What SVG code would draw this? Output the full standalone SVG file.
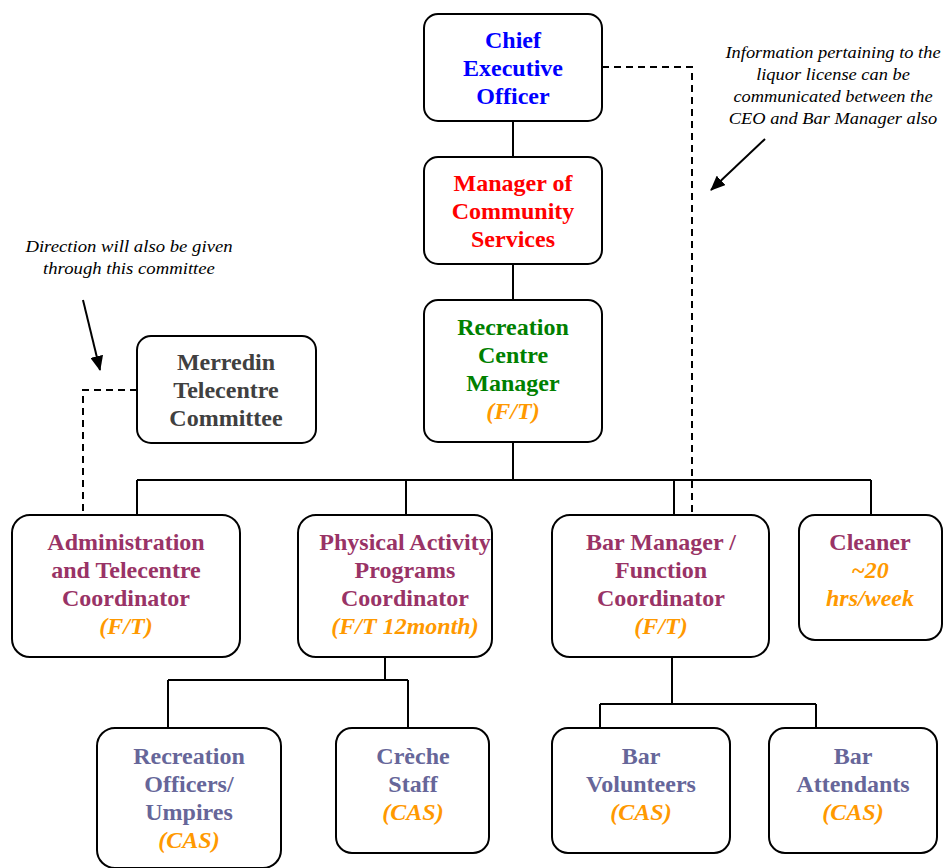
<svg xmlns="http://www.w3.org/2000/svg" width="945" height="868" viewBox="0 0 945 868">
<style>
.box{fill:#fff;stroke:#000;stroke-width:2}
.t{font-family:"Liberation Serif","Times New Roman",serif;font-weight:bold;font-size:24px;text-anchor:middle}
.i{font-style:italic}
.ceo{fill:#0000ff}.mgr{fill:#ff0000}.rec{fill:#008000}.pur{fill:#993366}.org{fill:#ff9900}.sla{fill:#666699}.gry{fill:#404040}
.note{font-family:"Liberation Serif","Times New Roman",serif;font-style:italic;font-size:16px;text-anchor:middle;fill:#000}
.ln{fill:none;stroke:#000;stroke-width:2}
.dash{fill:none;stroke:#000;stroke-width:2;stroke-dasharray:7,5}
</style>
<defs>
<marker id="ah" markerWidth="15" markerHeight="13" refX="14" refY="6.5" orient="auto" markerUnits="userSpaceOnUse" viewBox="0 0 15 13">
<path d="M0,0 L15,6.5 L0,13 z" fill="#000"/>
</marker>
</defs>
<g id="connectors">
<path class="ln" d="M513,121 V157 M513,264 V300 M513,442 V480 M137,480 H871 M137,480 V515 M406,480 V515 M674,480 V515 M871,480 V515"/>
<path class="ln" d="M385,657 V680 M168,680 H408 M168,680 V728 M408,680 V728"/>
<path class="ln" d="M672,657 V704 M600,704 H816 M600,704 V728 M816,704 V728"/>
<path class="dash" d="M602,67 H692 V515"/>
<path class="dash" d="M137,390 H83 V515"/>
<line x1="765" y1="139" x2="711" y2="190" stroke="#000" stroke-width="2" marker-end="url(#ah)"/>
<line x1="83" y1="300" x2="100" y2="370" stroke="#000" stroke-width="2" marker-end="url(#ah)"/>
</g>
<g id="ceo">
<rect class="box" x="424" y="14" width="178" height="107" rx="14"/>
<text class="t ceo" x="513" y="48">Chief</text>
<text class="t ceo" x="513" y="76">Executive</text>
<text class="t ceo" x="513" y="104">Officer</text>
</g>
<g id="mcs">
<rect class="box" x="424" y="157" width="178" height="107" rx="14"/>
<text class="t mgr" x="513" y="191">Manager of</text>
<text class="t mgr" x="513" y="219">Community</text>
<text class="t mgr" x="513" y="247">Services</text>
</g>
<g id="rcm">
<rect class="box" x="424" y="300" width="178" height="142" rx="14"/>
<text class="t rec" x="513" y="335">Recreation</text>
<text class="t rec" x="513" y="363">Centre</text>
<text class="t rec" x="513" y="391">Manager</text>
<text class="t i org" x="513" y="419">(F/T)</text>
</g>
<g id="mtc">
<rect class="box" x="137" y="336" width="179" height="107" rx="14"/>
<text class="t gry" x="226" y="370">Merredin</text>
<text class="t gry" x="226" y="398">Telecentre</text>
<text class="t gry" x="226" y="426">Committee</text>
</g>
<g id="admin">
<rect class="box" x="12" y="515" width="228" height="142" rx="18"/>
<text class="t pur" x="126" y="550">Administration</text>
<text class="t pur" x="126" y="578">and Telecentre</text>
<text class="t pur" x="126" y="606">Coordinator</text>
<text class="t i org" x="126" y="634">(F/T)</text>
</g>
<g id="pa">
<rect class="box" x="298" y="515" width="194" height="142" rx="18"/>
<text class="t pur" x="405" y="550">Physical Activity</text>
<text class="t pur" x="405" y="578">Programs</text>
<text class="t pur" x="405" y="606">Coordinator</text>
<text class="t i org" x="405" y="634">(F/T 12month)</text>
</g>
<g id="bar">
<rect class="box" x="552" y="515" width="217" height="142" rx="18"/>
<text class="t pur" x="661" y="550">Bar Manager /</text>
<text class="t pur" x="661" y="578">Function</text>
<text class="t pur" x="661" y="606">Coordinator</text>
<text class="t i org" x="661" y="634">(F/T)</text>
</g>
<g id="cleaner">
<rect class="box" x="799" y="515" width="143" height="125" rx="16"/>
<text class="t pur" x="870" y="550">Cleaner</text>
<text class="t i org" x="870" y="578">~20</text>
<text class="t i org" x="870" y="606">hrs/week</text>
</g>
<g id="ro">
<rect class="box" x="97" y="728" width="184" height="140" rx="18"/>
<text class="t sla" x="189" y="764">Recreation</text>
<text class="t sla" x="189" y="792">Officers/</text>
<text class="t sla" x="189" y="820">Umpires</text>
<text class="t i org" x="189" y="848">(CAS)</text>
</g>
<g id="creche">
<rect class="box" x="336" y="728" width="153" height="125" rx="16"/>
<text class="t sla" x="413" y="764">Crèche</text>
<text class="t sla" x="413" y="792">Staff</text>
<text class="t i org" x="413" y="820">(CAS)</text>
</g>
<g id="bv">
<rect class="box" x="552" y="728" width="178" height="125" rx="16"/>
<text class="t sla" x="641" y="764">Bar</text>
<text class="t sla" x="641" y="792">Volunteers</text>
<text class="t i org" x="641" y="820">(CAS)</text>
</g>
<g id="ba">
<rect class="box" x="769" y="728" width="168" height="125" rx="16"/>
<text class="t sla" x="853" y="764">Bar</text>
<text class="t sla" x="853" y="792">Attendants</text>
<text class="t i org" x="853" y="820">(CAS)</text>
</g>
<g id="note-ceo" transform="translate(833,0) scale(1.15,1)">
<text class="note" x="0" y="58">Information pertaining to the</text>
<text class="note" x="0" y="80">liquor license can be</text>
<text class="note" x="0" y="102">communicated between the</text>
<text class="note" x="0" y="124">CEO and Bar Manager also</text>
</g>
<g id="note-committee" transform="translate(129,0) scale(1.17,1)">
<text class="note" x="0" y="252">Direction will also be given</text>
<text class="note" x="0" y="274">through this committee</text>
</g>
</svg>
